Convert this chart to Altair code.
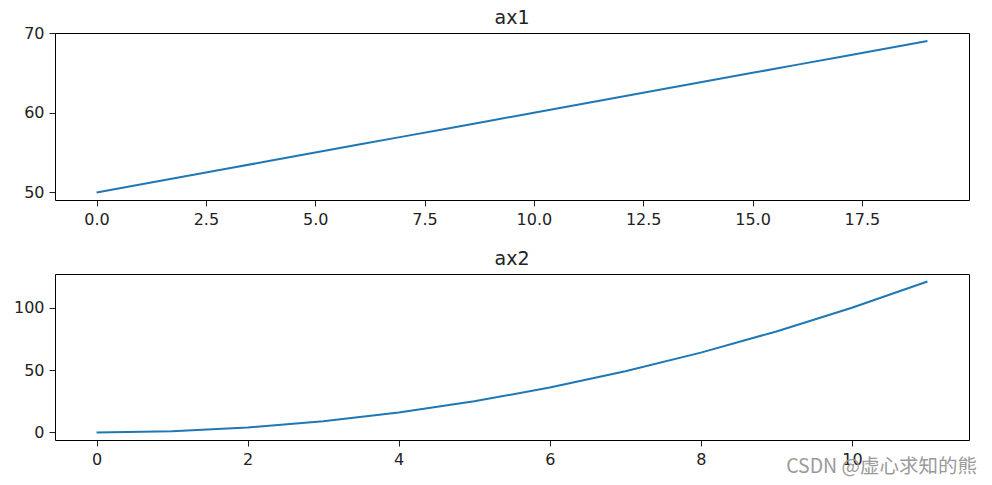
import altair as alt
import pandas as pd

# ax1 data
x1 = [0, 1, 2, 3, 4, 5, 6, 7, 8, 9, 10, 11, 12, 13, 14, 15, 16, 17, 18, 19]
y1 = [50, 51, 52, 53, 54, 55, 56, 57, 58, 59, 60, 61, 62, 63, 64, 65, 66, 67, 68, 69]
# ax2 data
x2 = [0, 1, 2, 3, 4, 5, 6, 7, 8, 9, 10, 11]
y2 = [0, 1, 4, 9, 16, 25, 36, 49, 64, 81, 100, 121]

# tick labels
x1_ticks = [0.0, 2.5, 5.0, 7.5, 10.0, 12.5, 15.0, 17.5]
y1_ticks = [50, 60, 70]
x2_ticks = [0, 2, 4, 6, 8, 10]
y2_ticks = [0, 50, 100]

titles = ["ax1", "ax2"]
watermark = "CSDN @虚心求知的熊"

FONT = "DejaVu Sans"
TXT = "#222222"
BLUE = "#1f77b4"
W = 914


def panel(xs, ys, title, xdom, ydom, xt, yt, xfmt, h):
    df = pd.DataFrame({"x": xs, "y": ys})
    line = alt.Chart(df).mark_line(color=BLUE, strokeWidth=2, clip=True).encode(
        x=alt.X("x:Q", scale=alt.Scale(domain=xdom, nice=False, zero=False),
                axis=alt.Axis(values=xt, format=xfmt, title=None)),
        y=alt.Y("y:Q", scale=alt.Scale(domain=ydom, nice=False, zero=False),
                axis=alt.Axis(values=yt, format="d", title=None)),
    )
    ttl = alt.Chart(pd.DataFrame({"t": [title]})).mark_text(
        align="center", baseline="alphabetic", fontSize=19, font=FONT, color=TXT
    ).encode(x=alt.value(W / 2), y=alt.value(-9.5), text="t:N")
    return [line, ttl], dict(width=W, height=h)


l1, p1 = panel(x1, y1, titles[0], [-0.95, 19.95], [49.05, 70.0], x1_ticks, y1_ticks, ".1f", 167)
l2, p2 = panel(x2, y2, titles[1], [-0.55, 11.55], [-6.05, 127.05], x2_ticks, y2_ticks, "d", 166)

wm = alt.Chart(pd.DataFrame({"t": [watermark]})).mark_text(
    align="right", baseline="middle", fontSize=19.5, font="Noto Sans CJK SC", color="#9a9a9a"
).encode(x=alt.value(922), y=alt.value(193), text="t:N")

c1 = alt.layer(*l1).properties(**p1)
c2 = alt.layer(*l2, wm).properties(**p2)

chart = alt.vconcat(c1, c2, spacing=21).properties(
    padding={"left": 4, "top": 0, "right": 0, "bottom": 0}
).configure_view(
    stroke="black", strokeWidth=1
).configure_axis(
    domain=False, grid=False, tickSize=6, tickWidth=1, tickColor=TXT,
    labelPadding=5, labelFontSize=16, labelFont=FONT, labelColor=TXT, labelFlush=False
)

chart.save("out.html", embed_options={"renderer": "svg", "actions": False})
